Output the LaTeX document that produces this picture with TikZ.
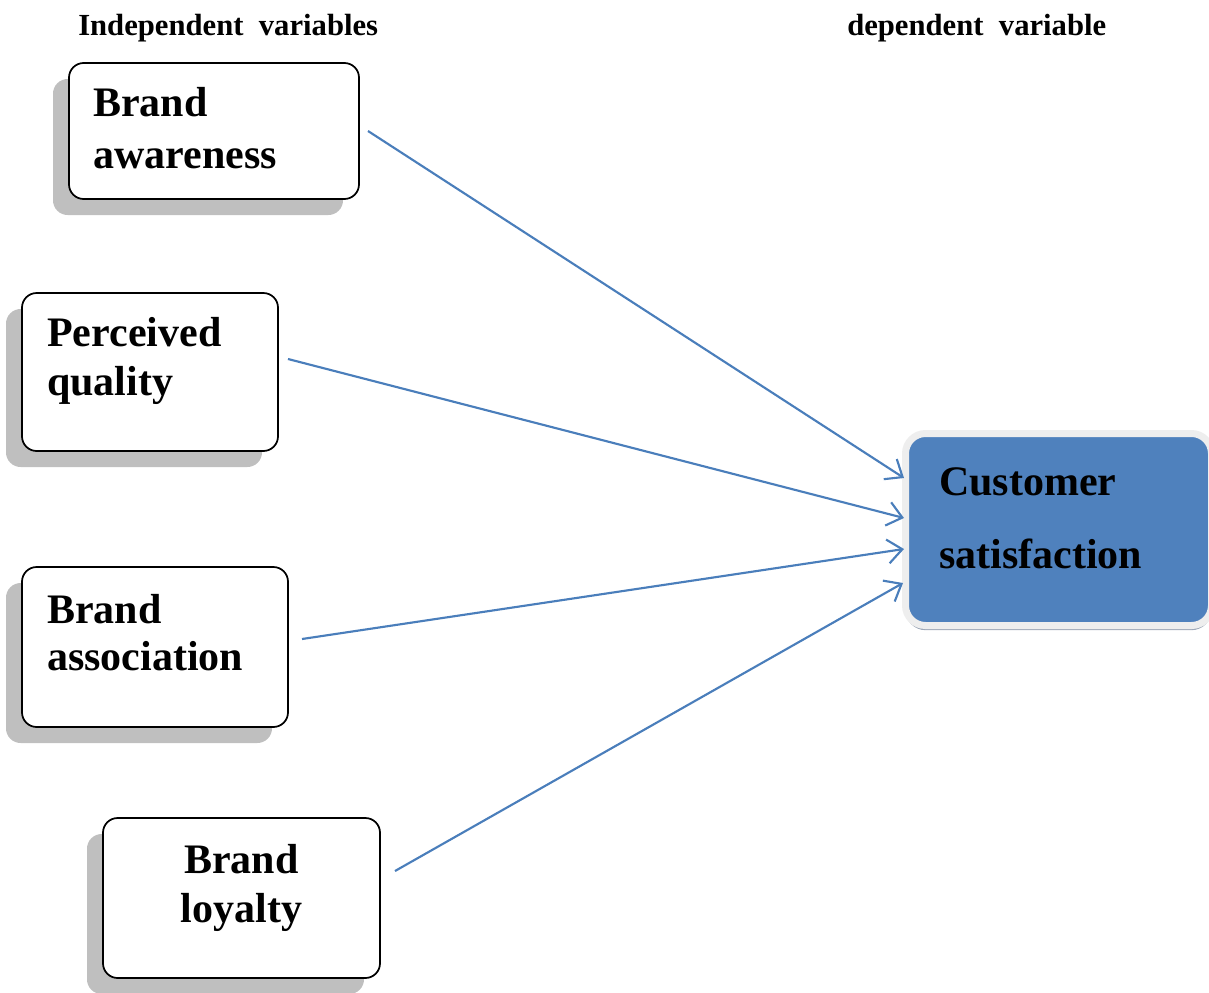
\documentclass[tikz,border=0pt]{standalone}
\usepackage{fontspec}
\setmainfont{Liberation Serif}
\usetikzlibrary{arrows.meta,shadows}
\definecolor{boxshadow}{HTML}{BFBFBF}
\definecolor{linkblue}{HTML}{4A7EBB}
\definecolor{dvfill}{HTML}{4F81BD}
\definecolor{dvglow}{HTML}{EEEEEE}
\definecolor{dvshadow}{HTML}{9DA8B8}
\begin{document}
\begin{tikzpicture}[x=0.75pt,y=-0.75pt,
  ivbox/.style={draw=black, line width=1.3pt, fill=white, rounded corners=11pt,
    inner sep=0pt,
    drop shadow={shadow xshift=-12pt, shadow yshift=-12pt, fill=boxshadow, opacity=1}},
  dvbox/.style={draw=dvglow, line width=5.25pt, fill=dvfill, rounded corners=15pt,
    inner sep=0pt,
    drop shadow={shadow xshift=0pt, shadow yshift=-3.5pt, fill=dvshadow, opacity=1}},
  lbl/.style={inner sep=0pt, font=\fontsize{31.5}{38}\selectfont\bfseries, anchor=base west},
  head/.style={inner sep=0pt, font=\fontsize{23}{27}\selectfont\bfseries, anchor=base west},
  link/.style={draw=linkblue, line width=1.6pt, -{Straight Barb[length=11pt,width=18pt,line width=1.6pt]}}
]
\useasboundingbox (0,0) rectangle (1209,992);

% column headings
\node[head] (hin)  at (78,35)  {Independent\ \ variables};
\node[head] (hdep) at (847,35) {dependent\ \ variable};

% independent variables
\node[ivbox, minimum width=217.5pt, minimum height=102pt]   (aw) at (214,131)   {};
\node[ivbox, minimum width=192pt,   minimum height=118.5pt] (pq) at (150,372)   {};
\node[ivbox, minimum width=199.5pt, minimum height=120pt]   (as) at (155,647)   {};
\node[ivbox, minimum width=207.75pt,minimum height=120pt]   (lo) at (241.5,898) {};

\node[lbl] (aw1) at (93,116)  {Brand};
\node[lbl] (aw2) at (93,168)  {awareness};
\node[lbl] (pq1) at (47,346)  {Perceived};
\node[lbl] (pq2) at (47,395)  {quality};
\node[lbl] (as1) at (47,623)  {Brand};
\node[lbl] (as2) at (47,670)  {association};
\node[lbl, anchor=base] (lo1) at (241.5,873) {Brand};
\node[lbl, anchor=base] (lo2) at (241.5,922) {loyalty};

% dependent variable
\node[dvbox, minimum width=229.5pt, minimum height=144pt] (cs) at (1058.5,529.5) {};
\node[lbl] (cs1) at (939,495) {Customer};
\node[lbl] (cs2) at (939,568) {satisfaction};

% connector ends
\coordinate (s1) at (368,131);
\coordinate (s2) at (288,359);
\coordinate (s3) at (302,639);
\coordinate (s4) at (395,871);
\coordinate (e1) at (904,478);
\coordinate (e2) at (904,518);
\coordinate (e3) at (904,549);
\coordinate (e4) at (903,583);

\draw[link] (s1) -- (e1);
\draw[link] (s2) -- (e2);
\draw[link] (s3) -- (e3);
\draw[link] (s4) -- (e4);
\end{tikzpicture}
\end{document}
